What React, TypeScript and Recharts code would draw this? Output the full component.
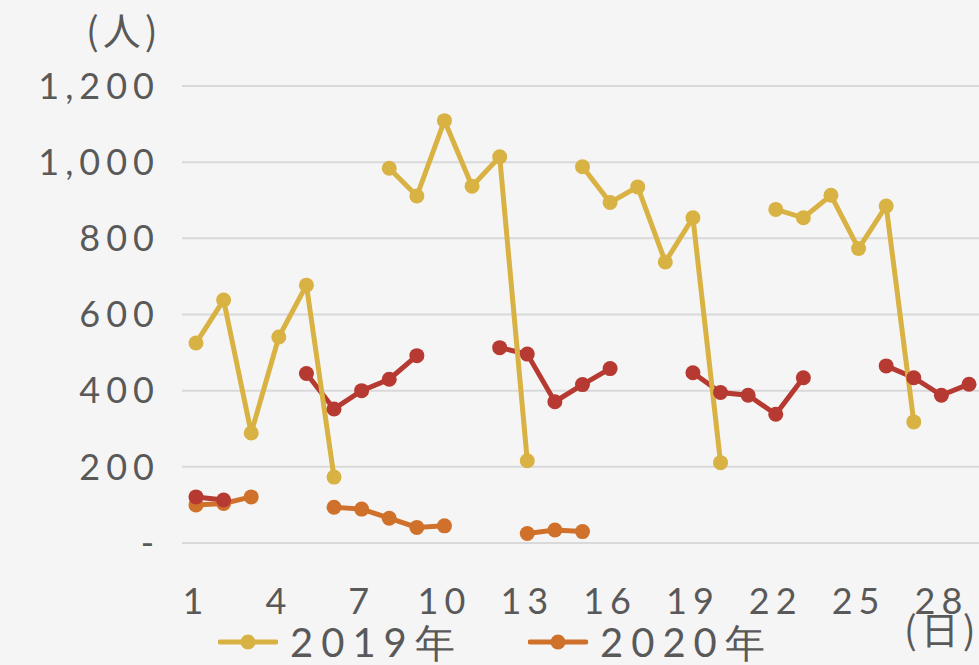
import React from 'react'
import { LineChart, Line, XAxis, YAxis, CartesianGrid } from 'recharts'

const days = [
  '1', '2', '3', '4', '5', '6', '7', '8', '9', '10', '11', '12', '13', '14', '15',
  '16', '17', '18', '19', '20', '21', '22', '23', '24', '25', '26', '27', '28', '29',
]

const visitors2019 = [
  525, 638, 289, 541, 677, 173, null, 984, 911, 1109, 937, 1014, 216, null, 988,
  894, 935, 738, 854, 211, null, 876, 854, 913, 773, 885, 318, null, null,
]

const visitors2020 = [
  100, 104, 121, null, null, 94, 89, 65, 41, 45, null, null, 25, 34, 30,
  null, null, null, null, null, null, null, null, null, null, null, null, null, null,
]

// third series, not shown in the visible legend
const visitorsOther = [
  121, 113, null, null, 445, 352, 400, 430, 492, null, null, 513, 496, 371, 416,
  458, null, null, 447, 395, 388, 338, 434, null, null, 465, 434, 388, 417,
]

const yTicks = [0, 200, 400, 600, 800, 1000, 1200]

const GOLD = '#d9b244'
const ORANGE = '#d0712b'
const RED = '#b63a31'
const TEXT = '#595959'
const FONT = 'Lato, "Noto Sans", sans-serif'

const data = days.map((d, i) => ({
  day: d,
  y2019: visitors2019[i],
  y2020: visitors2020[i],
  other: visitorsOther[i],
}))

function fmtY(v: number) {
  if (v === 0) return '-'
  return v.toLocaleString('en-US')
}

function LegendItem({ color, label, left }: { color: string; label: string; left: number }) {
  return (
    <div style={{ position: 'absolute', left, top: 622, display: 'flex', alignItems: 'center' }}>
      <svg width={60} height={20}>
        <line x1={2} y1={10} x2={58} y2={10} stroke={color} strokeWidth={5} strokeLinecap="round" />
        <circle cx={30} cy={10} r={7.5} fill={color} />
      </svg>
      <span
        style={{
          marginLeft: 12,
          fontFamily: FONT,
          fontSize: 40,
          letterSpacing: 8,
          color: TEXT,
          lineHeight: '40px',
        }}
      >
        {label}
      </span>
    </div>
  )
}

export default function App() {
  const tickStyle = { fontSize: 36, fill: TEXT, fontFamily: FONT, letterSpacing: 6 }
  return (
    <div
      style={{
        position: 'fixed',
        left: 0,
        top: 0,
        width: 979,
        height: 665,
        overflow: 'hidden',
        background: '#f5f5f5',
      }}
    >
      <LineChart
        width={990}
        height={665}
        data={data}
        margin={{ top: 86, right: 7, left: 0, bottom: 62 }}
      >
        <CartesianGrid vertical={false} stroke="#d9d9d9" strokeWidth={2} />
        <XAxis
          dataKey="day"
          interval={2}
          axisLine={false}
          tickLine={false}
          tickMargin={39}
          height={60}
          padding={{ left: 14, right: 14 }}
          tick={tickStyle}
        />
        <YAxis
          domain={[0, 1200]}
          ticks={yTicks}
          width={182}
          axisLine={false}
          tickLine={false}
          tickMargin={16}
          tickFormatter={fmtY}
          tick={tickStyle}
        />
        <Line
          dataKey="y2020"
          name="2020年"
          stroke={ORANGE}
          strokeWidth={5}
          dot={{ r: 7.5, fill: ORANGE, stroke: ORANGE, strokeWidth: 0 }}
          activeDot={false}
          isAnimationActive={false}
        />
        <Line
          dataKey="other"
          legendType="none"
          stroke={RED}
          strokeWidth={5}
          dot={{ r: 7.5, fill: RED, stroke: RED, strokeWidth: 0 }}
          activeDot={false}
          isAnimationActive={false}
        />
        <Line
          dataKey="y2019"
          name="2019年"
          stroke={GOLD}
          strokeWidth={5}
          dot={{ r: 7.5, fill: GOLD, stroke: GOLD, strokeWidth: 0 }}
          activeDot={false}
          isAnimationActive={false}
        />
      </LineChart>
      <div
        style={{
          position: 'absolute',
          left: 86,
          top: 4,
          fontFamily: '"Noto Sans CJK JP", sans-serif',
          fontSize: 38,
          color: TEXT,
          letterSpacing: 4,
          lineHeight: '50px',
        }}
      >
        (人)
      </div>
      <div
        style={{
          position: 'absolute',
          left: 904,
          top: 603,
          fontFamily: '"Noto Sans CJK JP", sans-serif',
          fontSize: 38,
          color: TEXT,
          letterSpacing: 4,
          lineHeight: '50px',
        }}
      >
        (日)
      </div>
      <LegendItem color={GOLD} label="2019年" left={218} />
      <LegendItem color={ORANGE} label="2020年" left={528} />
    </div>
  )
}
